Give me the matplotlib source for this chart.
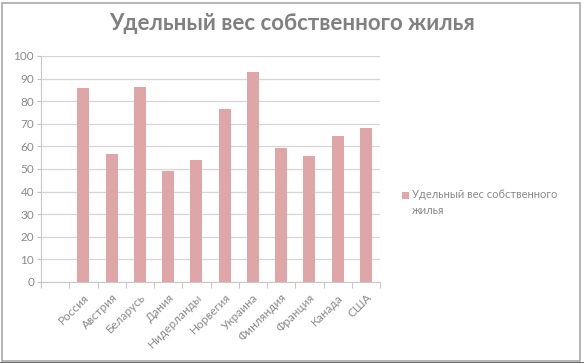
import matplotlib
matplotlib.use("Agg")
import matplotlib.pyplot as plt
import numpy as np
from matplotlib.patches import Rectangle

categories = ["", "Россия", "Австрия", "Беларусь", "Дания", "Нидерланды", "Норвегия",
              "Украина", "Финляндия", "Франция", "Канада", "США"]
values = [np.nan, 86.0, 56.8, 86.4, 49.3, 54.1, 76.4, 92.9, 59.3, 55.8, 64.7, 68.3]
series_name = "Удельный вес собственного жилья"
title = "Удельный вес собственного жилья"
yticks = [0, 10, 20, 30, 40, 50, 60, 70, 80, 90, 100]

plt.rcParams['font.family'] = ['Lato', 'DejaVu Sans']

fig = plt.figure(figsize=(5.84, 3.63), dpi=100)
fig.patch.set_facecolor('white')
ax = fig.add_axes([41/584, 1-282/363, (380-41)/584, (282-56)/363])

bar_color = '#dea6a6'
text_gray = '#8a8a8a'
x = np.arange(len(categories))
ax.bar(x, values, width=0.42, color=bar_color, zorder=3)

ax.set_xlim(-0.5, len(categories)-0.5)
ax.set_ylim(0, 100)
ax.set_yticks(yticks)
ax.yaxis.grid(True, color='#d6d6d6', linewidth=0.9, zorder=0)
ax.tick_params(axis='y', colors='#bfbfbf', labelcolor=text_gray, labelsize=8.5,
               length=3, width=0.8, pad=2)
ax.set_xticks(x)
ax.set_xticklabels(categories, rotation=45, ha='right', rotation_mode='anchor',
                   fontsize=8.5, color=text_gray)
ax.tick_params(axis='x', length=0, pad=7)
ax.set_xticks(np.arange(-0.5, len(categories), 1.0), minor=True)
ax.tick_params(axis='x', which='minor', length=4, color='#c8c8c8', width=0.8)
for s in ['top', 'right']:
    ax.spines[s].set_visible(False)
ax.spines['left'].set_color('#c8c8c8')
ax.spines['bottom'].set_color('#c8c8c8')

fig.text(0.5, 1-23/363, title, ha='center', va='center', fontsize=16,
         fontweight='bold', color='#808080')

# legend
fig.patches.append(Rectangle((402/584, 1-199/363), 7/584, 7/363, transform=fig.transFigure,
                             facecolor=bar_color, edgecolor='none'))
fig.text(412/584, 1-195/363, "Удельный вес собственного", ha='left', va='center',
         fontsize=8, color=text_gray)
fig.text(412/584, 1-211/363, "жилья", ha='left', va='center',
         fontsize=8, color=text_gray)

# chart border
fig.patches.append(Rectangle((1.5/584, 2.5/363), 578/584, 358/363, transform=fig.transFigure,
                             facecolor='none', edgecolor='#a8a8a8', linewidth=1.2))
fig.patches.append(Rectangle((0, 0), 1, 1.5/363, transform=fig.transFigure,
                             facecolor='#707070', edgecolor='none'))

fig.savefig("out.png", dpi=100)
